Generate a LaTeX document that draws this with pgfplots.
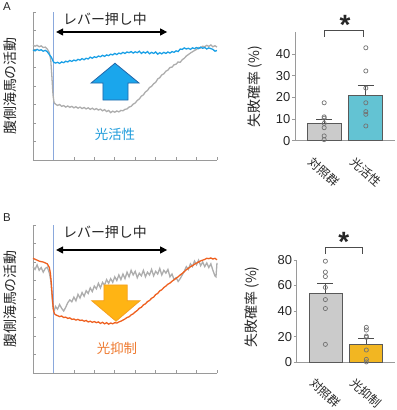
\documentclass[border=0pt]{standalone}
\usepackage{pgfplots}
\pgfplotsset{compat=1.18}
\usepackage{fontspec}
\setmainfont{Liberation Sans}
\newfontfamily\jp{Noto Sans CJK JP}
\usetikzlibrary{arrows.meta}
\definecolor{graytrace}{HTML}{ADADAD}
\definecolor{bluetrace}{HTML}{1AA0E6}
\definecolor{orangetrace}{HTML}{EE6020}
\definecolor{vline}{HTML}{8AA8DC}
\definecolor{bluearrow}{HTML}{1AA6EC}
\definecolor{bluearrowedge}{HTML}{2366A8}
\definecolor{orarrow}{HTML}{FFB414}
\definecolor{orarrowedge}{HTML}{F6A01E}
\definecolor{bluetext}{HTML}{1E9BDB}
\definecolor{oratext}{HTML}{EE7A30}
\definecolor{barctrl}{HTML}{CBCBCB}
\definecolor{barblue}{HTML}{63C3D3}
\definecolor{barorange}{HTML}{F2B622}
\definecolor{axgray}{HTML}{9A9A9A}
\definecolor{txt}{HTML}{262626}

\pgfplotstableread{
x y
0.0 6.22
0.1 6.15
0.2 6.20
0.3 6.12
0.4 6.17
0.5 6.08
0.6 6.10
0.7 6.00
0.8 5.80
0.87 5.40
0.93 4.40
0.98 3.50
1.03 3.10
1.1 3.02
1.2 2.95
1.3 3.00
1.4 2.90
1.5 2.94
1.6 2.86
1.7 2.92
1.8 2.85
1.9 2.90
2.0 2.82
2.1 2.88
2.2 2.80
2.3 2.86
2.4 2.78
2.5 2.84
2.6 2.76
2.7 2.82
2.8 2.74
2.9 2.80
3.0 2.72
3.1 2.78
3.2 2.70
3.3 2.75
3.4 2.66
3.5 2.72
3.6 2.62
3.7 2.68
3.8 2.56
3.9 2.64
4.0 2.58
4.1 2.65
4.2 2.60
4.3 2.68
4.4 2.66
4.5 2.74
4.6 2.76
4.7 2.86
4.8 2.90
4.9 3.02
5.0 3.08
5.1 3.22
5.2 3.30
5.3 3.45
5.4 3.52
5.5 3.68
5.6 3.76
5.7 3.92
5.8 3.98
5.9 4.12
6.0 4.20
6.1 4.38
6.2 4.45
6.3 4.60
6.4 4.66
6.5 4.80
6.6 4.86
6.7 5.00
6.8 5.02
6.9 5.15
7.0 5.18
7.1 5.30
7.2 5.28
7.3 5.42
7.4 5.50
7.5 5.62
7.6 5.70
7.7 5.78
7.8 5.85
7.9 5.92
8.0 5.98
8.1 6.08
8.2 6.05
8.3 6.15
8.4 6.12
8.5 6.20
8.6 6.14
8.7 6.22
8.8 6.12
8.9 6.18
9.0 6.10
}\grayA

\pgfplotstableread{
x y
0.0 5.95
0.1 5.90
0.2 5.98
0.3 5.92
0.4 5.96
0.5 5.88
0.6 5.93
0.7 5.85
0.8 5.70
0.9 5.55
1.0 5.30
1.1 5.24
1.2 5.28
1.3 5.22
1.4 5.30
1.5 5.26
1.6 5.34
1.7 5.30
1.8 5.38
1.9 5.33
2.0 5.40
2.1 5.36
2.2 5.44
2.3 5.40
2.4 5.48
2.5 5.42
2.6 5.50
2.7 5.46
2.8 5.56
2.9 5.50
3.0 5.58
3.1 5.54
3.2 5.62
3.3 5.58
3.4 5.66
3.5 5.60
3.6 5.68
3.7 5.64
3.8 5.72
3.9 5.68
4.0 5.76
4.1 5.70
4.2 5.78
4.3 5.74
4.4 5.82
4.5 5.76
4.6 5.84
4.7 5.80
4.8 5.86
4.9 5.78
5.0 5.85
5.1 5.80
5.2 5.88
5.3 5.76
5.4 5.84
5.5 5.78
5.6 5.86
5.7 5.74
5.8 5.82
5.9 5.76
6.0 5.84
6.1 5.72
6.2 5.80
6.3 5.74
6.4 5.82
6.5 5.76
6.6 5.84
6.7 5.78
6.8 5.86
6.9 5.82
7.0 5.90
7.1 5.86
7.2 6.00
7.3 5.98
7.4 6.06
7.5 6.00
7.6 6.04
7.7 5.98
7.8 6.06
7.9 6.02
8.0 6.08
8.1 6.02
8.2 6.10
8.3 6.04
8.4 6.08
8.5 6.00
8.6 6.06
8.7 6.02
8.8 5.98
8.9 5.88
9.0 5.92
}\blueA

\pgfplotstableread{
x y
0.0 6.20
0.1 6.15
0.2 6.10
0.3 6.05
0.4 6.02
0.5 6.00
0.6 5.95
0.7 5.90
0.8 5.70
0.85 5.40
0.9 4.80
0.95 4.00
1.0 3.40
1.05 3.20
1.1 3.15
1.2 3.10
1.3 3.05
1.4 3.08
1.5 3.00
1.6 3.02
1.7 2.95
1.8 2.98
1.9 2.90
2.0 2.92
2.1 2.86
2.2 2.90
2.3 2.84
2.4 2.86
2.5 2.80
2.6 2.84
2.7 2.76
2.8 2.80
2.9 2.74
3.0 2.78
3.1 2.72
3.2 2.76
3.3 2.68
3.4 2.74
3.5 2.66
3.6 2.72
3.7 2.64
3.8 2.70
3.9 2.66
4.0 2.72
4.1 2.70
4.2 2.76
4.3 2.80
4.4 2.86
4.5 2.92
4.6 3.00
4.7 3.04
4.8 3.14
4.9 3.20
5.0 3.30
5.1 3.38
5.2 3.50
5.3 3.55
5.4 3.68
5.5 3.74
5.6 3.86
5.7 3.92
5.8 4.04
5.9 4.10
6.0 4.24
6.1 4.30
6.2 4.44
6.3 4.50
6.4 4.62
6.5 4.70
6.6 4.80
6.7 4.86
6.8 4.96
6.9 5.04
7.0 5.12
7.1 5.20
7.2 5.30
7.3 5.38
7.4 5.48
7.5 5.58
7.6 5.66
7.7 5.74
7.8 5.80
7.9 5.88
8.0 5.94
8.1 6.00
8.2 6.06
8.3 6.10
8.4 6.14
8.5 6.20
8.6 6.18
8.7 6.22
8.8 6.16
8.9 6.20
9.0 6.12
}\orangeB

\pgfplotstableread{
x y
0.0 5.75
0.1 5.60
0.2 5.85
0.3 5.55
0.4 5.70
0.5 5.45
0.6 5.65
0.7 5.72
0.8 5.40
0.87 5.00
0.93 4.20
0.98 3.50
1.05 3.40
1.1 3.60
1.2 3.45
1.3 3.70
1.4 3.50
1.5 3.35
1.6 3.55
1.7 3.80
1.8 3.95
1.9 3.85
2.0 4.10
2.1 3.90
2.2 4.25
2.3 4.05
2.4 4.35
2.5 4.15
2.6 4.45
2.7 4.30
2.8 4.60
2.9 4.40
3.0 4.70
3.1 4.55
3.2 4.85
3.3 4.60
3.4 4.90
3.5 4.75
3.6 5.05
3.7 4.85
3.8 5.10
3.9 4.90
4.0 5.20
4.1 5.00
4.2 5.30
4.3 5.05
4.4 5.35
4.5 5.10
4.6 5.45
4.7 5.20
4.8 5.55
4.9 5.30
5.0 5.50
5.1 5.15
5.2 5.40
5.3 5.25
5.4 5.55
5.5 5.20
5.6 5.45
5.7 5.30
5.8 5.60
5.9 5.25
6.0 5.50
6.1 5.35
6.2 5.65
6.3 5.30
6.4 5.55
6.5 5.40
6.6 5.60
6.7 5.20
6.8 5.35
6.9 5.05
7.0 5.15
7.1 4.95
7.2 5.10
7.3 5.30
7.4 5.50
7.5 5.75
7.6 5.60
7.7 5.90
7.8 5.75
7.9 6.05
8.0 5.85
8.1 6.10
8.2 5.80
8.3 6.00
8.4 5.75
8.5 5.95
8.6 5.70
8.7 5.90
8.8 5.55
8.9 5.25
8.95 5.20
9.0 5.95
}\grayB

\pgfplotsset{
  trace/.style={
    scale only axis, anchor=south west,
    width=184bp, height=148bp,
    xmin=0, xmax=9, ymin=0, ymax=8,
    axis lines*=left,
    axis line style={draw=axgray, line width=0.8bp},
    xtick={0,...,9}, ytick={0,...,8},
    xticklabels={}, yticklabels={},
    tick align=inside, major tick length=2.5bp,
    tick style={draw=axgray, line width=0.6bp},
    clip=false,
    ylabel={\jp 腹側海馬の活動},
    ylabel style={at={(axis description cs:-0.125,0.5)}, anchor=center, font=\fontsize{14}{14}\selectfont, text=txt},
  },
  bars/.style={
    scale only axis, anchor=south west,
    xmin=-0.7, xmax=1.7, ymin=0,
    axis lines*=left,
    axis line style={draw=axgray, line width=0.8bp},
    xtick={0,1},
    xtick style={draw=none},
    ytick style={draw=axgray, line width=0.6bp},
    tick align=outside, major tick length=3bp,
    /pgf/number format/assume math mode=true,
    yticklabel style={font=\fontsize{13}{13}\selectfont, text=txt, inner sep=1.5bp},
    xticklabel style={font=\jp\fontsize{12}{12}\selectfont, text=txt, inner sep=0pt, yshift=-28bp, rotate=-42, anchor=center},
    clip=false,
    ylabel={\jp 失敗確率 (\%)},
    ylabel style={font=\fontsize{14}{14}\selectfont, text=txt, anchor=center},
  },
}

\begin{document}
\begin{tikzpicture}
\useasboundingbox (0,0) rectangle (397bp,410bp);
\node[font=\fontsize{11.5}{11.5}\selectfont, text=txt] at (7bp,403bp) {A};
\node[font=\fontsize{11.5}{11.5}\selectfont, text=txt] at (7bp,192bp) {B};

% ---------- Panel A trace
\begin{axis}[trace, at={(33bp,250bp)}]
\draw[vline, line width=1.1bp] (axis cs:1,0) -- (axis cs:1,8);
\addplot[graytrace, line width=1.3bp] table[x=x,y=y] {\grayA};
\addplot[bluetrace, line width=1.3bp] table[x=x,y=y] {\blueA};
\fill[bluearrow, draw=bluearrowedge, line width=0.8bp]
  (axis cs:4.01,5.23) -- (axis cs:5.19,4.16) -- (axis cs:4.65,4.16) -- (axis cs:4.65,3.24)
  -- (axis cs:3.42,3.24) -- (axis cs:3.42,4.16) -- (axis cs:2.84,4.16) -- cycle;
\draw[{Triangle[length=7bp,width=7bp]}-{Triangle[length=7bp,width=7bp]}, line width=1.2bp, black]
  (axis cs:1.13,6.92) -- (axis cs:6.56,6.92);
\node[font=\jp\fontsize{14}{14}\selectfont, text=txt] at (axis cs:3.52,7.62) {レバー押し中};
\node[font=\jp\fontsize{13.5}{13.5}\selectfont, text=bluetext] at (axis cs:4.01,1.41) {光活性};
\end{axis}

% ---------- Panel B trace
\begin{axis}[trace, at={(33bp,37bp)}]
\draw[vline, line width=1.1bp] (axis cs:1,0) -- (axis cs:1,8);
\addplot[graytrace, line width=1.3bp] table[x=x,y=y] {\grayB};
\addplot[orangetrace, line width=1.3bp] table[x=x,y=y] {\orangeB};
\fill[orarrow, draw=orarrowedge, line width=0.8bp]
  (axis cs:4.06,2.80) -- (axis cs:5.24,3.91) -- (axis cs:4.61,3.91) -- (axis cs:4.61,4.76)
  -- (axis cs:3.47,4.76) -- (axis cs:3.47,3.91) -- (axis cs:2.87,3.91) -- cycle;
\draw[{Triangle[length=7bp,width=7bp]}-{Triangle[length=7bp,width=7bp]}, line width=1.2bp, black]
  (axis cs:1.13,6.65) -- (axis cs:6.56,6.65);
\node[font=\jp\fontsize{14}{14}\selectfont, text=txt] at (axis cs:3.52,7.62) {レバー押し中};
\node[font=\jp\fontsize{13.5}{13.5}\selectfont, text=oratext] at (axis cs:4.11,1.35) {光抑制};
\end{axis}

% ---------- Panel A bars
\begin{axis}[bars, at={(295bp,269.3bp)}, width=100bp, height=108.3bp,
  ymax=50, ytick={0,10,20,30,40},
  xticklabels={対照群,光活性},
  ylabel style={at={(axis description cs:-0.40,0.5)}}]
\addplot[ybar, bar shift=0pt, bar width=34bp, fill=barctrl, draw=black!65, line width=0.7bp,
  error bars/.cd, y dir=plus, y explicit,
  error bar style={draw=black!70, line width=0.8bp},
  error mark options={rotate=90, mark size=8bp, draw=black!70, line width=0.8bp}]
  coordinates {(0,7.8) +- (0,2.2)};
\addplot[ybar, bar shift=0pt, bar width=34bp, fill=barblue, draw=black!65, line width=0.7bp,
  error bars/.cd, y dir=plus, y explicit,
  error bar style={draw=black!70, line width=0.8bp},
  error mark options={rotate=90, mark size=8bp, draw=black!70, line width=0.8bp}]
  coordinates {(1,21.1) +- (0,4.6)};
\addplot[only marks, mark=o, mark size=2.1bp, draw=black!55, line width=0.7bp]
  coordinates {(0,17.5) (0,11) (0,10.4) (0,8) (0,6) (0,2.2) (0,0.5)};
\addplot[only marks, mark=o, mark size=2.1bp, draw=black!55, line width=0.7bp]
  coordinates {(1,42.9) (1,32.2) (1,24.3) (1,17.5) (1,13.4) (1,12.2) (1,6.8)};
\draw[black!70, line width=0.8bp] (axis cs:0,48) -- (axis cs:0,50.8) -- (axis cs:0.95,50.8) -- (axis cs:0.95,48);
\node[anchor=north, inner sep=0pt, font=\fontsize{28}{28}\selectfont\bfseries, text=txt] at (axis cs:0.5,58.0) {*};
\end{axis}

% ---------- Panel B bars
\begin{axis}[bars, at={(296.7bp,47.7bp)}, width=98.3bp, height=102.4bp,
  ymax=80, ytick={0,20,40,60,80},
  xticklabels={対照群,光抑制},
  ylabel style={at={(axis description cs:-0.455,0.54)}}]
\addplot[ybar, bar shift=0pt, bar width=33bp, fill=barctrl, draw=black!65, line width=0.7bp,
  error bars/.cd, y dir=plus, y explicit,
  error bar style={draw=black!70, line width=0.8bp},
  error mark options={rotate=90, mark size=8bp, draw=black!70, line width=0.8bp}]
  coordinates {(0,53.9) +- (0,7.8)};
\addplot[ybar, bar shift=0pt, bar width=33bp, fill=barorange, draw=black!65, line width=0.7bp,
  error bars/.cd, y dir=plus, y explicit,
  error bar style={draw=black!70, line width=0.8bp},
  error mark options={rotate=90, mark size=8bp, draw=black!70, line width=0.8bp}]
  coordinates {(1,14.3) +- (0,4.4)};
\addplot[only marks, mark=o, mark size=2.1bp, draw=black!55, line width=0.7bp]
  coordinates {(0,79) (0,70.5) (0,67) (0,58.5) (0,49) (0,42) (0,14)};
\addplot[only marks, mark=o, mark size=2.1bp, draw=black!55, line width=0.7bp]
  coordinates {(1,27.3) (1,25.2) (1,20.5) (1,19.5) (1,9.6) (1,2.3) (1,0.3)};
\draw[black!70, line width=0.8bp] (axis cs:0,84.6) -- (axis cs:0,89.5) -- (axis cs:0.9,89.5) -- (axis cs:0.9,84.6);
\node[anchor=north, inner sep=0pt, font=\fontsize{28}{28}\selectfont\bfseries, text=txt] at (axis cs:0.45,102) {*};
\end{axis}
\end{tikzpicture}
\end{document}
